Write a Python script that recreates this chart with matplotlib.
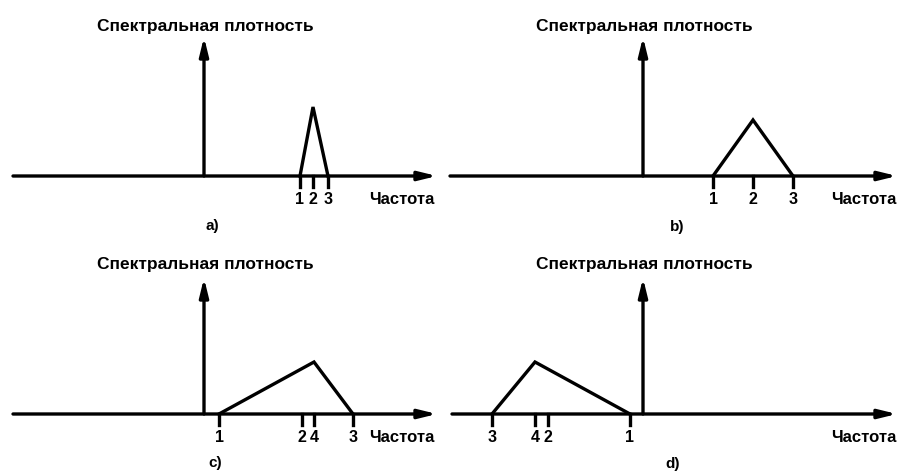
import matplotlib
matplotlib.use("Agg")
import matplotlib.pyplot as plt

# spectral density sketches, 4 cases a) b) c) d)
# x positions are frequency offsets from the density axis, y is the peak height
a_freq = [96, 109, 124]
a_labels = ["1", "2", "3"]
a_shape_x = [96, 109, 124]
a_shape_y = [0, 69, 0]

b_freq = [70, 110, 150]
b_labels = ["1", "2", "3"]
b_shape_x = [70, 110, 150]
b_shape_y = [0, 56, 0]

c_freq = [15, 98, 110, 149]
c_labels = ["1", "2", "4", "3"]
c_shape_x = [15, 110, 149]
c_shape_y = [0, 52, 0]

d_freq = [-151, -108, -95, -13]
d_labels = ["3", "4", "2", "1"]
d_shape_x = [-151, -108, -13]
d_shape_y = [0, 52, 0]

title = "Спектральная плотность"
xlabel = "Частота"
letters = ["a)", "b)", "c)", "d)"]

W, H = 900, 476
fig = plt.figure(figsize=(W / 100, H / 100), dpi=100)

font = dict(family="Liberation Sans", weight="bold", color="black")
lw = 2.4

# panel box in pixels (left, top, right, bottom), axis origin in pixels,
# axis x extent, arrow height, label offsets
panels = [
    dict(box=(0, 0, 450, 240), origin=(204, 176), xext=(13, 437), arrow=139,
         freq=a_freq, labels=a_labels, sx=a_shape_x, sy=a_shape_y,
         xlab_right=434, letter_x=212, letter_y=226, title_y=27, title_x=205),
    dict(box=(450, 0, 900, 240), origin=(643, 176), xext=(450, 897), arrow=139,
         freq=b_freq, labels=b_labels, sx=b_shape_x, sy=b_shape_y,
         xlab_right=897, letter_x=677, letter_y=227, title_y=27, title_x=644),
    dict(box=(0, 240, 450, 476), origin=(204, 414), xext=(13, 437), arrow=136,
         freq=c_freq, labels=c_labels, sx=c_shape_x, sy=c_shape_y,
         xlab_right=434, letter_x=215, letter_y=463, title_y=265, title_x=205),
    dict(box=(450, 240, 900, 476), origin=(643, 414), xext=(452, 897), arrow=136,
         freq=d_freq, labels=d_labels, sx=d_shape_x, sy=d_shape_y,
         xlab_right=897, letter_x=673, letter_y=464, title_y=265, title_x=644),
]

for p, letter in zip(panels, letters):
    l, t, r, b = p["box"]
    ox, oy = p["origin"]
    ax = fig.add_axes([l / W, 1 - b / H, (r - l) / W, (b - t) / H])
    ax.set_xlim(l - ox, r - ox)
    ax.set_ylim(oy - b, oy - t)
    ax.axis("off")

    arrow = dict(arrowstyle="-|>,head_length=0.9,head_width=0.22",
                 lw=lw, color="black", shrinkA=0, shrinkB=0, mutation_scale=12)
    # frequency axis
    ax.annotate("", xy=(p["xext"][1] - ox, 0), xytext=(p["xext"][0] - ox, 0),
                arrowprops=arrow)
    # density axis
    ax.annotate("", xy=(0, p["arrow"]), xytext=(0, 0), arrowprops=arrow)

    # spectrum shape
    ax.plot(p["sx"], p["sy"], color="black", lw=lw, solid_joinstyle="miter")

    # ticks and labels
    for f, s in zip(p["freq"], p["labels"]):
        ax.plot([f, f], [0, -11], color="black", lw=lw)
        ax.text(f, -24, s, ha="center", va="center", fontsize=11.5, **font)

    ax.text(p["xlab_right"] - ox, -24, xlabel, ha="right", va="center",
            fontsize=12, **font)
    ax.text(p["title_x"] - ox, oy - p["title_y"], title, ha="center",
            va="center", fontsize=12.5, **font)
    ax.text(p["letter_x"] - ox, oy - p["letter_y"], letter, ha="center",
            va="center", fontsize=11, **font)

fig.savefig("out.png", dpi=100)
